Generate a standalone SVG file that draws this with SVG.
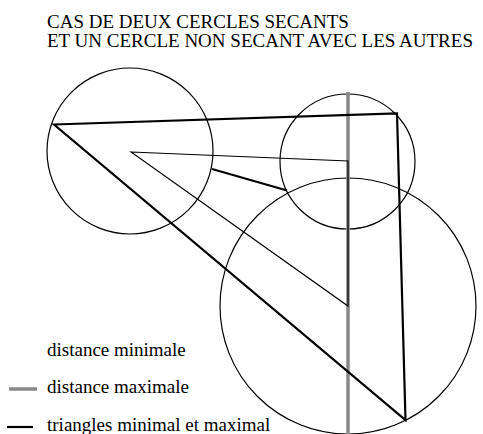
<svg xmlns="http://www.w3.org/2000/svg" width="483" height="434" viewBox="0 0 483 434">
<style>
text{font-family:"Liberation Serif","Times New Roman",serif;font-size:19px;fill:#000}
.c{fill:none;stroke:#000;stroke-width:1.2}
.thin{fill:none;stroke:#000;stroke-width:1.2}
.thick{fill:none;stroke:#000;stroke-width:2.2}
.gray{fill:none;stroke:#888;stroke-width:3.5}
</style>
<rect width="483" height="434" fill="#fff"/>
<g id="title">
<text x="47" y="28">CAS DE DEUX CERCLES SECANTS</text>
<text x="47" y="47">ET UN CERCLE NON SECANT AVEC LES AUTRES</text>
</g>
<g id="circle1"><circle class="c" cx="130" cy="151" r="83"/></g>
<g id="circle2"><circle class="c" cx="347.5" cy="161.5" r="67.5"/></g>
<g id="circle3"><circle class="c" cx="348" cy="306" r="128"/></g>
<g id="connectors">
<line class="gray" x1="348" y1="92" x2="348" y2="434"/>
<polygon class="thin" points="131,152 348,161 348,306"/>
<polygon class="thick" points="54,124.5 397,113.5 405.5,420"/>
<line class="thick" x1="212" y1="169" x2="287" y2="190.5"/>
</g>
<g id="legend">
<text x="47" y="356">distance minimale</text>
<line class="gray" x1="9" y1="389" x2="37" y2="389"/>
<text x="47" y="393">distance maximale</text>
<line class="thick" x1="7" y1="427" x2="33" y2="427"/>
<text x="47" y="431">triangles minimal et maximal</text>
</g>
</svg>
